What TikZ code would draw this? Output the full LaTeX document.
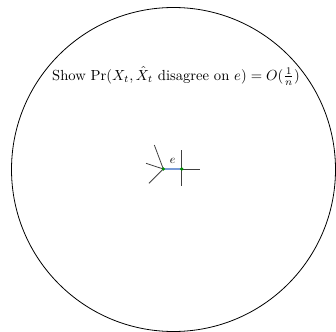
\documentclass[tikz,border=0pt]{standalone}
\usepackage{graphicx}
\usetikzlibrary{backgrounds}
\begin{document}
\begin{tikzpicture}[x=1pt,y=-1pt,
  edgeline/.style={draw=black!75,line width=0.8pt},
  vdot/.style={circle,fill=green!55!black,inner sep=0pt,minimum size=3.6pt},
  hedge/.style={draw=cyan!45!blue!55,line width=1.4pt}]
\useasboundingbox (0,0) rectangle (336,331);
\node[draw,circle,line width=0.8pt,minimum size=324pt,inner sep=0pt] (c) at (173.5,169.5) {};
\node (t) at (176,76) {\scalebox{1.46}{Show $\Pr(X_t,\hat X_t\mbox{ disagree on }e)=O(\frac{1}{n})$}};
\coordinate (a1) at (154.3,145);
\coordinate (a2) at (146,163.3);
\coordinate (a3) at (149,183.3);
\coordinate (b1) at (181.7,150);
\coordinate (b2) at (181.7,186);
\coordinate (b3) at (200,169);
\node[vdot] (u) at (163.3,169) {};
\node[vdot] (v) at (181.7,169) {};
\begin{scope}[on background layer]
\draw[edgeline] (u.center) -- (a1);
\draw[edgeline] (u.center) -- (a2);
\draw[edgeline] (u.center) -- (a3);
\draw[edgeline] (b1) -- (b2);
\draw[edgeline] (v.center) -- (b3);
\draw[hedge] (u.center) -- (v.center);
\end{scope}
\node[inner sep=0pt] (e) at (172.7,161) {\scalebox{1.2}{$e$}};
\end{tikzpicture}
\end{document}
